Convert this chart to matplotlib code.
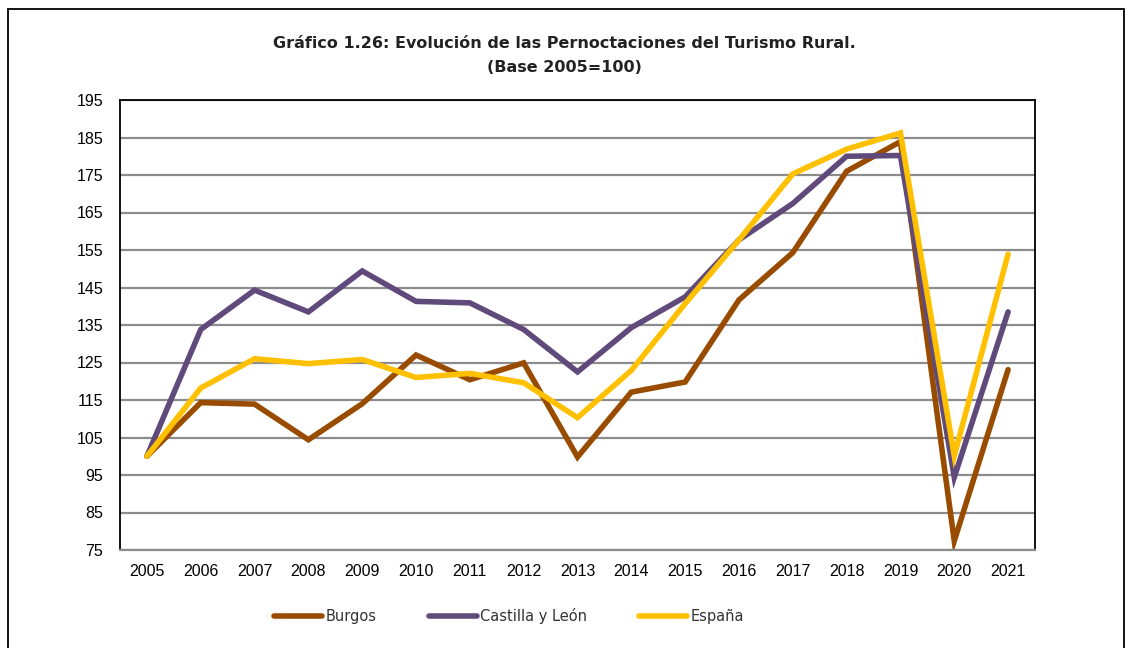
import matplotlib
matplotlib.use("Agg")
import matplotlib.pyplot as plt
from matplotlib.patches import Rectangle

years = [str(y) for y in range(2005, 2022)]
burgos = [100, 114.3, 113.9, 104.4, 114.0, 127.0, 120.4, 124.9, 99.8, 117.1, 119.8,
          141.7, 154.3, 176.0, 183.9, 77.4, 123.1]
castilla = [100, 133.8, 144.3, 138.5, 149.4, 141.3, 140.9, 133.8, 122.5, 134.3, 142.5,
            157.7, 167.4, 180.0, 180.2, 94.4, 138.5]
espana = [100, 118.2, 126.0, 124.7, 125.8, 121.0, 122.1, 119.6, 110.3, 122.9, 140.7,
          157.7, 175.3, 181.9, 186.2, 100.1, 153.9]
yticks = list(range(75, 196, 10))

series = [("Burgos", burgos, "#994C00"),
          ("Castilla y León", castilla, "#604A7B"),
          ("España", espana, "#FFC000")]

tick_font = ["Liberation Sans Narrow", "Liberation Sans", "DejaVu Sans"]

fig = plt.figure(figsize=(11.29, 6.48), dpi=100)
ax = fig.add_axes([120/1129, 1 - 550/648, 915/1129, 450/648])

x = range(len(years))
for name, vals, color in series:
    ax.plot(x, vals, color=color, linewidth=4.0, label=name,
            solid_capstyle="round", solid_joinstyle="miter")

ax.set_xlim(-0.5, len(years) - 0.5)
ax.set_ylim(75, 195)
ax.set_yticks(yticks)
ax.set_xticks(list(x))
ax.set_xticklabels(years, family=tick_font, fontsize=11.5)
ax.set_yticklabels([str(t) for t in yticks], family=tick_font, fontsize=11.5)
ax.tick_params(length=0, pad=12)
ax.tick_params(axis="x", pad=10)
ax.yaxis.grid(True, color="#8c8c8c", linewidth=1.6)
ax.set_axisbelow(True)

for s in ["left", "top", "right"]:
    ax.spines[s].set_color("black")
    ax.spines[s].set_linewidth(1.3)
ax.spines["bottom"].set_color("#8c8c8c")
ax.spines["bottom"].set_linewidth(1.6)

fig.text(0.5, 1 - 44/648, "Gráfico 1.26: Evolución de las Pernoctaciones del Turismo Rural.",
         ha="center", va="center", fontsize=11.5, fontweight="bold", color="#222222")
fig.text(0.5, 1 - 67/648, "(Base 2005=100)",
         ha="center", va="center", fontsize=11.5, fontweight="bold", color="#222222")

leg = fig.legend(loc="center", bbox_to_anchor=(509/1129, 1 - 616/648), ncol=3, frameon=False,
                 prop={"family": "DejaVu Sans", "size": 10.5},
                 handlelength=3.3, handletextpad=0.2, columnspacing=3.6)
for t in leg.get_texts():
    t.set_color("#333333")

fig.patches.append(Rectangle((8/1129, -0.1), 1116/1129, 1.1 - 9/648, transform=fig.transFigure,
                             fill=False, edgecolor="black", linewidth=1.3))

fig.savefig("out.png", dpi=100)
